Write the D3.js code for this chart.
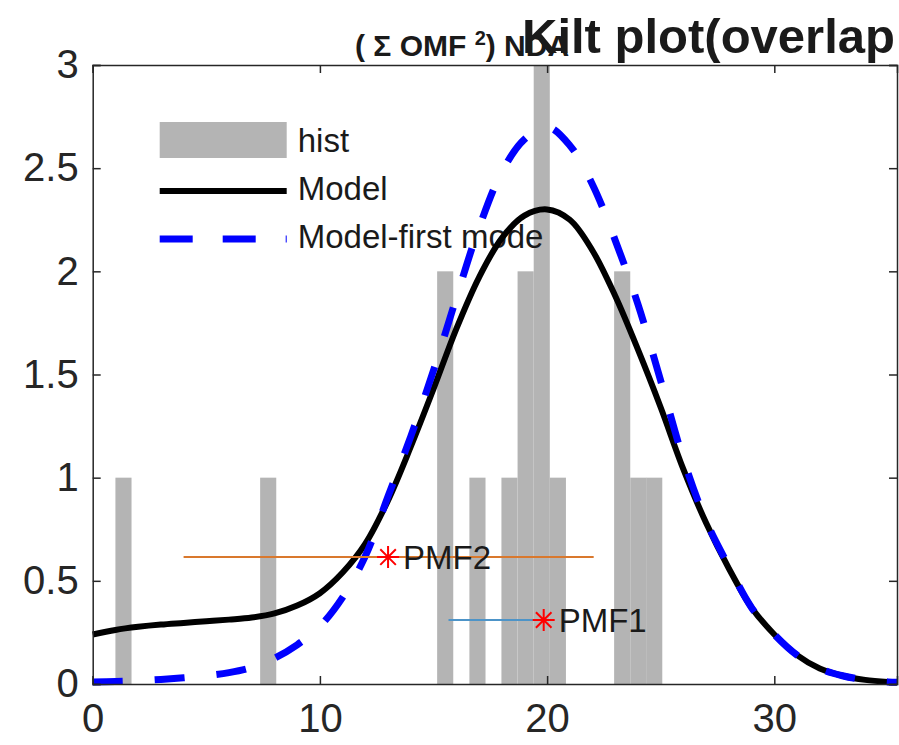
<!DOCTYPE html>
<html>
<head>
<meta charset="utf-8">
<script src="https://cdn.jsdelivr.net/npm/d3@7"></script>
<style>
  body { margin: 0; background: #fff; }
  text { font-family: "Liberation Sans", Arial, sans-serif; }
</style>
</head>
<body>
<div id="chart"></div>
<script>
// histogram bins (left edge, count), bin width in data units
const binLeft = [1.00, 7.37, 15.16, 16.58, 17.99, 18.70, 19.41, 20.12, 22.95, 23.66, 24.36];
const binCount = [1, 1, 2, 1, 1, 2, 3, 1, 2, 1, 1];
const binWidth = 0.709;

// curves
const curveX = [0, 1, 2, 3, 4, 5, 6, 7, 8, 9, 10, 11, 12, 13, 14, 15, 16, 17, 18, 19, 20,
                21, 22, 23, 24, 25, 26, 27, 28, 29, 30, 31, 32, 33, 34, 35, 35.4];
const modelY = [0.24, 0.262, 0.277, 0.288, 0.296, 0.304, 0.312, 0.322, 0.342, 0.38, 0.44, 0.54, 0.68, 0.89,
                1.15, 1.43, 1.72, 1.97, 2.16, 2.27, 2.30, 2.25, 2.10, 1.88, 1.62, 1.34, 1.04, 0.78,
                0.56, 0.37, 0.24, 0.14, 0.075, 0.04, 0.02, 0.01, 0.008];
const firstModeY = [0.01, 0.012, 0.016, 0.022, 0.03, 0.04, 0.055, 0.08, 0.125, 0.19, 0.28, 0.42, 0.62, 0.91,
                1.20, 1.52, 1.87, 2.21, 2.48, 2.64, 2.70, 2.61, 2.42, 2.15, 1.84, 1.47, 1.09, 0.79,
                0.57, 0.37, 0.24, 0.14, 0.075, 0.04, 0.02, 0.01, 0.008];

// PMF markers: [from, to] range, centre, level
const pmfNames = ["PMF1", "PMF2"];
const pmfFrom = [15.66, 4.0];
const pmfTo = [19.85, 22.05];
const pmfCenter = [19.85, 13.0];
const pmfLevel = [0.31, 0.615];
const pmfColors = ["#4d94c8", "#d9782d"];

const xTicks = [0, 10, 20, 30];
const yTicks = [0, 0.5, 1, 1.5, 2, 2.5, 3];

const legendLabels = ["hist", "Model", "Model-first mode"];

const W = 899, H = 745;
const margin = {left: 92.7, top: 65, right: 2, bottom: 61};
const innerW = W - margin.left - margin.right;
const innerH = H - margin.top - margin.bottom;

const svg = d3.select("#chart").append("svg")
    .attr("width", W)
    .attr("height", H);

const g = svg.append("g")
    .attr("transform", `translate(${margin.left},${margin.top})`);

const xScale = d3.scaleLinear().domain([0, 35.4]).range([0, innerW]);
const yScale = d3.scaleLinear().domain([0, 3]).range([innerH, 0]);

// bars
g.selectAll(".bar")
    .data(binLeft)
    .join("rect")
    .attr("class", "bar")
    .attr("x", d => xScale(d))
    .attr("width", d => xScale(d + binWidth) - xScale(d))
    .attr("y", (d, i) => yScale(binCount[i]))
    .attr("height", (d, i) => innerH - yScale(binCount[i]))
    .attr("fill", "#b4b4b4");

// legend (drawn under the curves like in the figure)
const legend = g.append("g").attr("transform", "translate(67,57)");
legend.append("rect")
    .attr("x", 0).attr("y", 0)
    .attr("width", 127).attr("height", 36)
    .attr("fill", "#b4b4b4");
legend.append("line")
    .attr("x1", 0).attr("x2", 127).attr("y1", 69).attr("y2", 69)
    .attr("stroke", "#000").attr("stroke-width", 6);
legend.append("line")
    .attr("x1", 0).attr("x2", 127).attr("y1", 117).attr("y2", 117)
    .attr("stroke", "#0000ff").attr("stroke-width", 7)
    .attr("stroke-dasharray", "33,30");
legendLabels.forEach((lab, i) => {
    legend.append("text")
        .attr("x", 138)
        .attr("y", 30 + i * 48)
        .attr("font-size", 33)
        .attr("fill", "#1a1a1a")
        .text(lab);
});

// curves
const line = d3.line()
    .x((d, i) => xScale(curveX[i]))
    .y(d => yScale(d))
    .curve(d3.curveCatmullRom.alpha(0.5));

g.append("path")
    .datum(modelY)
    .attr("d", line)
    .attr("fill", "none")
    .attr("stroke", "#000")
    .attr("stroke-width", 6);

g.append("path")
    .datum(firstModeY)
    .attr("d", line)
    .attr("fill", "none")
    .attr("stroke", "#0000ff")
    .attr("stroke-width", 7)
    .attr("stroke-dasharray", "30,32");

// PMF ranges, asterisks and labels
function asterisk(r) {
    const p = d3.path();
    p.moveTo(-r, 0); p.lineTo(r, 0);
    p.moveTo(0, -r); p.lineTo(0, r);
    const s = r * 0.7071;
    p.moveTo(-s, -s); p.lineTo(s, s);
    p.moveTo(-s, s); p.lineTo(s, -s);
    return p.toString();
}

pmfNames.forEach((name, i) => {
    g.append("line")
        .attr("x1", xScale(pmfFrom[i]))
        .attr("x2", xScale(pmfTo[i]))
        .attr("y1", yScale(pmfLevel[i]))
        .attr("y2", yScale(pmfLevel[i]))
        .attr("stroke", pmfColors[i])
        .attr("stroke-width", 2);
    g.append("path")
        .attr("d", asterisk(11))
        .attr("transform", `translate(${xScale(pmfCenter[i])},${yScale(pmfLevel[i])})`)
        .attr("fill", "none")
        .attr("stroke", "#ff0000")
        .attr("stroke-width", 2);
    g.append("text")
        .attr("x", xScale(pmfCenter[i]) + 15)
        .attr("y", yScale(pmfLevel[i]) + 12)
        .attr("font-size", 33)
        .attr("fill", "#1a1a1a")
        .text(name);
});

// axes box with inward ticks (MATLAB style)
const axisColor = "#262626";
const xAxis = g.append("g")
    .attr("transform", `translate(0,${innerH})`)
    .call(d3.axisBottom(xScale).tickValues(xTicks).tickSize(-8).tickPadding(20).tickFormat(d3.format("d")));
const xAxisTop = g.append("g")
    .call(d3.axisTop(xScale).tickValues(xTicks).tickSize(-8).tickFormat(""));
const yAxis = g.append("g")
    .call(d3.axisLeft(yScale).tickValues(yTicks).tickSize(-8).tickPadding(14).tickFormat(d => d3.format("")(d)));
const yAxisRight = g.append("g")
    .attr("transform", `translate(${innerW},0)`)
    .call(d3.axisRight(yScale).tickValues(yTicks).tickSize(-8).tickFormat(""));

[xAxis, xAxisTop, yAxis, yAxisRight].forEach(ax => {
    ax.select(".domain").attr("stroke", axisColor).attr("stroke-width", 1.5);
    ax.selectAll(".tick line").attr("stroke", axisColor).attr("stroke-width", 1.5);
    ax.selectAll(".tick text")
        .attr("fill", axisColor)
        .style("font-family", '"Liberation Sans", Arial, sans-serif')
        .style("font-size", "40px");
});
xAxis.selectAll(".tick text").attr("dy", "0.71em");

// titles, overlapping as in the figure
svg.append("text")
    .attr("x", 355)
    .attr("y", 56)
    .attr("font-size", 30)
    .attr("font-weight", "bold")
    .attr("fill", "#1a1a1a")
    .html('( Σ OMF <tspan baseline-shift="super" font-size="20">2</tspan>) NDA');

svg.append("text")
    .attr("x", 522)
    .attr("y", 53)
    .attr("font-size", 49)
    .attr("font-weight", "bold")
    .attr("fill", "#1a1a1a")
    .text("Kilt plot(overlap");
</script>
</body>
</html>
